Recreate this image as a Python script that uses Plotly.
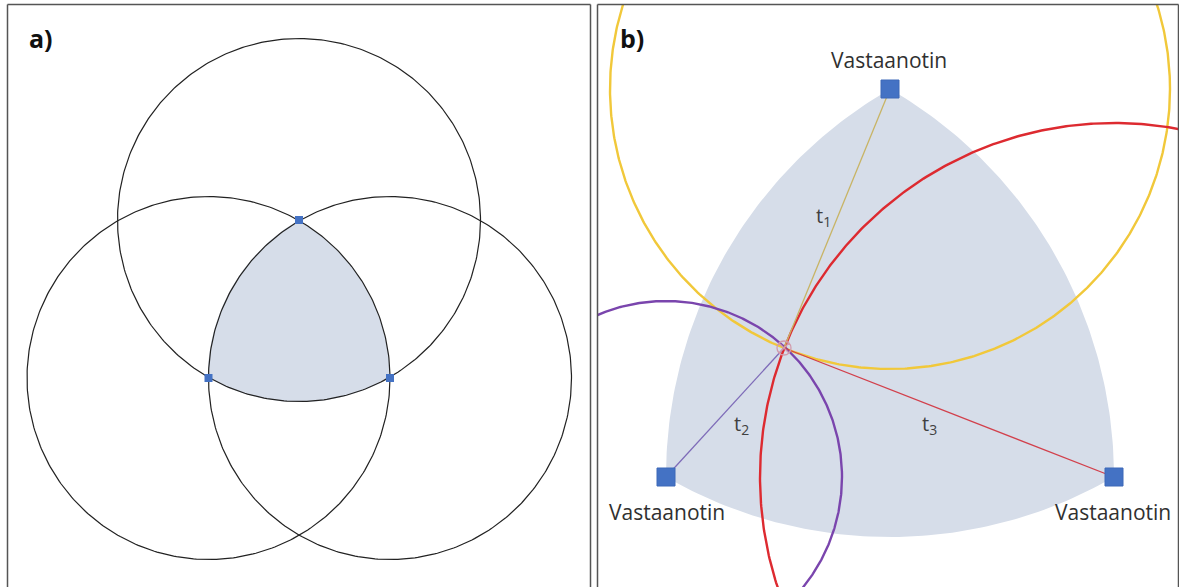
import numpy as np
import plotly.graph_objects as go

W, H = 1179, 587

# ---------- data (pixel coordinates) ----------
# panel a: three equal circles whose centres form an equilateral triangle
a_cx = [299, 208.5, 390]
a_cy = [220, 378, 378]
a_r = 181.5

# panel b: receivers, estimated position, and range circles
b_rx = [890, 666, 1114]
b_ry = [89, 477, 477]
b_est_x = [784]
b_est_y = [348]
b_radii = [280, 176, 354]
b_circle_colors = ["#f1c83a", "#7a45ad", "#dd2a30"]
b_line_colors = ["#c8b465", "#7e6bb8", "#d2404c"]
b_t_labels = ["t<sub>1</sub>", "t<sub>2</sub>", "t<sub>3</sub>"]
b_t_x = [823, 741, 929]
b_t_y = [216, 424, 424]
recv_label = "Vastaanotin"
recv_label_x = [889, 667, 1113]
recv_label_y = [60, 512, 512]

FILL = "#d6dde9"
BLUE = "#4472c4"


def circle(cx, cy, r, n=400):
    t = np.linspace(0, 2 * np.pi, n)
    return cx + r * np.cos(t), cy + r * np.sin(t)


def arc(c, p0, p1, n=80):
    a0 = np.arctan2(p0[1] - c[1], p0[0] - c[0])
    a1 = np.arctan2(p1[1] - c[1], p1[0] - c[0])
    d = (a1 - a0 + np.pi) % (2 * np.pi) - np.pi
    t = a0 + np.linspace(0, d, n)
    r = np.hypot(p0[0] - c[0], p0[1] - c[1])
    return c[0] + r * np.cos(t), c[1] + r * np.sin(t)


def reuleaux(xs, ys):
    P = list(zip(xs, ys))
    px, py = [], []
    for i in range(3):
        s, e, c = P[i], P[(i + 1) % 3], P[(i + 2) % 3]
        x, y = arc(c, s, e)
        px += list(x)
        py += list(y)
    return px, py


fig = go.Figure()

# ---------- panel a ----------
rx, ry = reuleaux(a_cx, a_cy)
fig.add_trace(go.Scatter(x=rx, y=ry, fill="toself", fillcolor=FILL, mode="lines",
                         line=dict(width=0), hoverinfo="skip", xaxis="x", yaxis="y"))
for cx, cy in zip(a_cx, a_cy):
    x, y = circle(cx, cy, a_r)
    fig.add_trace(go.Scatter(x=x, y=y, mode="lines", line=dict(color="#222", width=1.2),
                             hoverinfo="skip", xaxis="x", yaxis="y"))
fig.add_trace(go.Scatter(x=a_cx, y=a_cy, mode="markers",
                         marker=dict(symbol="square", size=8, color=BLUE),
                         xaxis="x", yaxis="y"))

# ---------- panel b ----------
rx, ry = reuleaux(b_rx, b_ry)
fig.add_trace(go.Scatter(x=rx, y=ry, fill="toself", fillcolor=FILL, mode="lines",
                         line=dict(width=0), hoverinfo="skip", xaxis="x2", yaxis="y2"))
for cx, cy, r, col in zip(b_rx, b_ry, b_radii, b_circle_colors):
    x, y = circle(cx, cy, r, 800)
    fig.add_trace(go.Scatter(x=x, y=y, mode="lines", line=dict(color=col, width=2.4),
                             hoverinfo="skip", xaxis="x2", yaxis="y2"))
for cx, cy, col in zip(b_rx, b_ry, b_line_colors):
    fig.add_trace(go.Scatter(x=[cx, b_est_x[0]], y=[cy, b_est_y[0]], mode="lines",
                             line=dict(color=col, width=1.3), hoverinfo="skip",
                             xaxis="x2", yaxis="y2"))
fig.add_trace(go.Scatter(x=b_rx, y=b_ry, mode="markers",
                         marker=dict(symbol="square", size=18, color=BLUE,
                                     line=dict(color="#3d68b8", width=1)),
                         xaxis="x2", yaxis="y2"))
fig.add_trace(go.Scatter(x=b_est_x, y=b_est_y, mode="markers",
                         marker=dict(symbol="circle-x-open", size=14, color="#d29aac",
                                     line=dict(width=1.3)),
                         xaxis="x2", yaxis="y2"))

annotations = []
FONT = "Open Sans"
for tx, ty, tl in zip(b_t_x, b_t_y, b_t_labels):
    annotations.append(dict(x=tx, y=ty, xref="x2", yref="y2", text=tl, showarrow=False,
                            font=dict(family=FONT, size=20, color="#404040")))
for lx, ly in zip(recv_label_x, recv_label_y):
    annotations.append(dict(x=lx, y=ly, xref="x2", yref="y2", text=recv_label,
                            showarrow=False, font=dict(family=FONT, size=21, color="#303030")))
annotations.append(dict(x=41, y=38, xref="x", yref="y", text="<b>a)</b>", showarrow=False,
                        font=dict(family="Open Sans", size=25, color="#111")))
annotations.append(dict(x=632, y=38, xref="x2", yref="y2", text="<b>b)</b>", showarrow=False,
                        font=dict(family="Open Sans", size=25, color="#111")))

# panel borders
BC = "#555"
shapes = []
for x0, x1 in [(7.5, 590.5), (597.5, 1178.5)]:
    shapes.append(dict(type="line", xref="paper", yref="paper", x0=x0 / W, x1=x0 / W,
                       y0=1 - 4.5 / H, y1=-0.05, line=dict(color=BC, width=1.5)))
    shapes.append(dict(type="line", xref="paper", yref="paper", x0=x1 / W, x1=x1 / W,
                       y0=1 - 4.5 / H, y1=-0.05, line=dict(color=BC, width=1.5)))
    shapes.append(dict(type="line", xref="paper", yref="paper", x0=x0 / W, x1=x1 / W,
                       y0=1 - 4.5 / H, y1=1 - 4.5 / H, line=dict(color=BC, width=1.5)))

ax = dict(visible=False, showgrid=False, zeroline=False, fixedrange=True)
fig.update_layout(
    width=W, height=H, margin=dict(l=0, r=0, t=0, b=0),
    paper_bgcolor="white", plot_bgcolor="white", showlegend=False,
    xaxis=dict(domain=[8 / W, 590 / W], range=[8, 590], **ax),
    yaxis=dict(domain=[0, 1 - 5 / H], range=[587, 5], **ax),
    xaxis2=dict(domain=[598 / W, 1178 / W], range=[598, 1178], **ax),
    yaxis2=dict(domain=[0, 1 - 5 / H], range=[587, 5], anchor="x2", **ax),
    annotations=annotations, shapes=shapes,
)
fig.write_html("out.html", config={"displayModeBar": False})

# remove the browser's default page margin so the figure sits at (0, 0)
with open("out.html", encoding="utf-8") as f:
    html = f.read()
html = html.replace("<head>", "<head><style>html,body{margin:0;padding:0;overflow:hidden}</style>", 1)
with open("out.html", "w", encoding="utf-8") as f:
    f.write(html)
